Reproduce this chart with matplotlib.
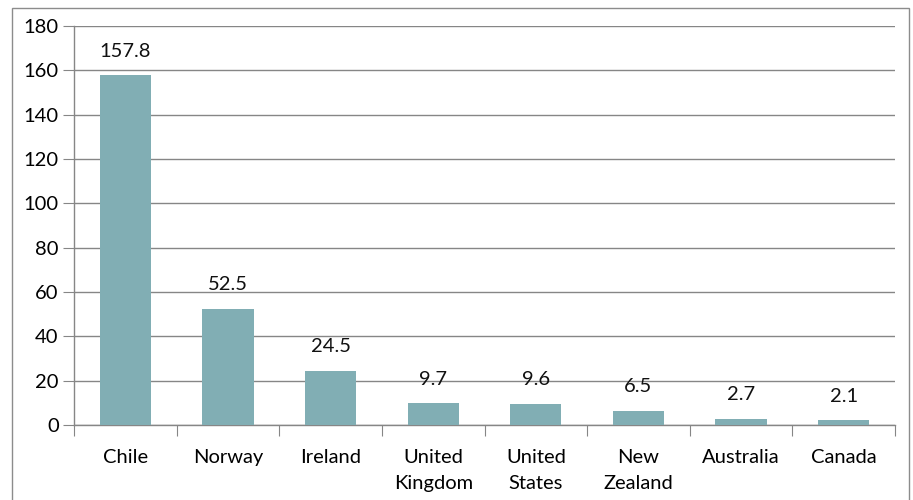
import matplotlib
matplotlib.use("Agg")
import matplotlib.pyplot as plt
from matplotlib.patches import Rectangle

# 数据
countries = ["Chile", "Norway", "Ireland", "United\nKingdom", "United\nStates",
             "New\nZealand", "Australia", "Canada"]
values = [157.8, 52.5, 24.5, 9.7, 9.6, 6.5, 2.7, 2.1]
y_ticks = [0, 20, 40, 60, 80, 100, 120, 140, 160, 180]

plt.rcParams["font.family"] = ["Lato", "DejaVu Sans"]
FS = 14.5

fig = plt.figure(figsize=(9.13, 5.0), dpi=100)
W, H = 913, 500
ax = fig.add_axes([74 / W, 1 - 425 / H, (895 - 74) / W, (425 - 26) / H])

# 外框（底部超出图片）
fig.patches.append(Rectangle((12 / W, -0.05), (909 - 12) / W, 1.05 - 8 / H,
                             transform=fig.transFigure, fill=False,
                             edgecolor="#8c8c8c", linewidth=1.0))

x = range(len(countries))
bars = ax.bar(x, values, width=0.5, color="#81AEB4", zorder=3)
for b, v in zip(bars, values):
    ax.text(b.get_x() + b.get_width() / 2, v + 7, f"{v}", ha="center", va="bottom",
            fontsize=FS, color="#111111")

ax.set_xlim(-0.5, len(countries) - 0.5)
ax.set_ylim(0, 180)
ax.set_yticks(y_ticks)
ax.tick_params(axis="y", labelsize=FS, length=8, color="#868686", pad=3)
ax.grid(axis="y", color="#868686", linewidth=1.0, zorder=0)

# x 轴：刻度在类别边界，标签在中间
ax.set_xticks([i - 0.5 for i in range(len(countries) + 1)])
ax.set_xticklabels([])
ax.set_xticks(list(x), minor=True)
ax.set_xticklabels(countries, minor=True, fontsize=FS, linespacing=1.7)
ax.tick_params(axis="x", which="major", length=8, color="#868686")
ax.tick_params(axis="x", which="minor", length=0, pad=17)

for side in ["top", "right"]:
    ax.spines[side].set_visible(False)
for side in ["left", "bottom"]:
    ax.spines[side].set_color("#868686")
    ax.spines[side].set_linewidth(1.0)

fig.savefig("out.png", dpi=100)
